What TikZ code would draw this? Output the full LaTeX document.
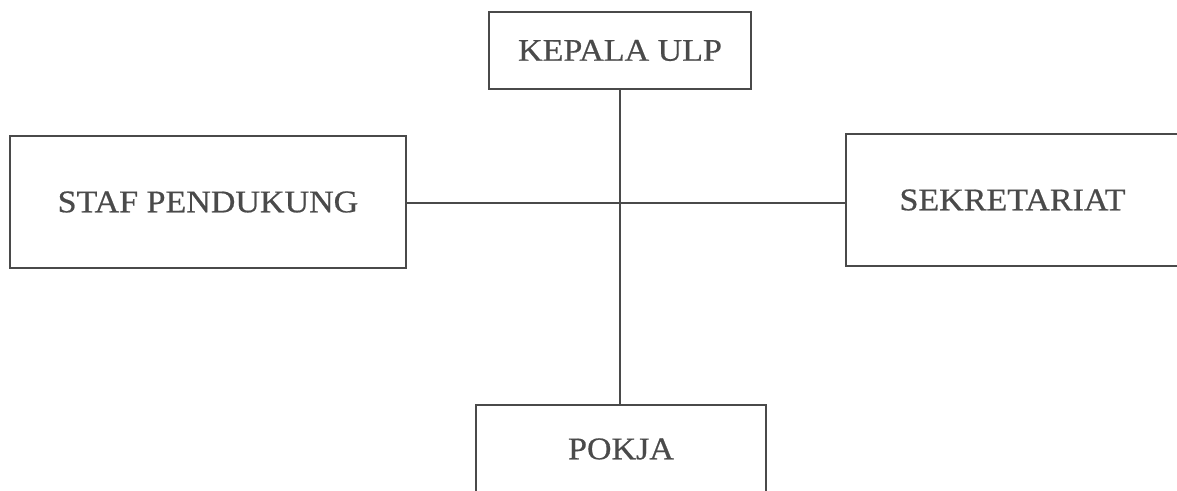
\documentclass[tikz,border=0pt]{standalone}
\usepackage{fontspec}
\setmainfont{Liberation Serif}[FakeStretch=1.08,FakeBold=0.6]
\definecolor{ink}{HTML}{4A4A4A}
\begin{document}
\begin{tikzpicture}[x=1pt,y=1pt,
  orgbox/.style={draw=ink, line width=1.8pt, text=ink, minimum width=#1, inner sep=0pt,
    font=\fontsize{31.5}{36}\selectfont},
  link/.style={draw=ink, line width=1.6pt}]
\useasboundingbox[fill=white] (0,0) rectangle (1177,490);
\node[orgbox=262pt, minimum height=77pt] (kepala) at (620,439.5) {KEPALA ULP};
\node[orgbox=396pt, minimum height=132pt] (staf) at (208,288) {STAF PENDUKUNG};
\node[orgbox=339pt, minimum height=132pt, text width=339pt, align=center] (sekr) at (1015.5,290) {\hspace*{-6pt}SEKRETARIAT};
\node[orgbox=290pt, minimum height=88pt] (pokja) at (621,41) {POKJA};
\draw[link] (kepala.south) -- (kepala.south |- pokja.north);
\draw[link] (staf.east) ++(0,-1) coordinate (hl) -- (hl -| sekr.west);
\end{tikzpicture}
\end{document}
